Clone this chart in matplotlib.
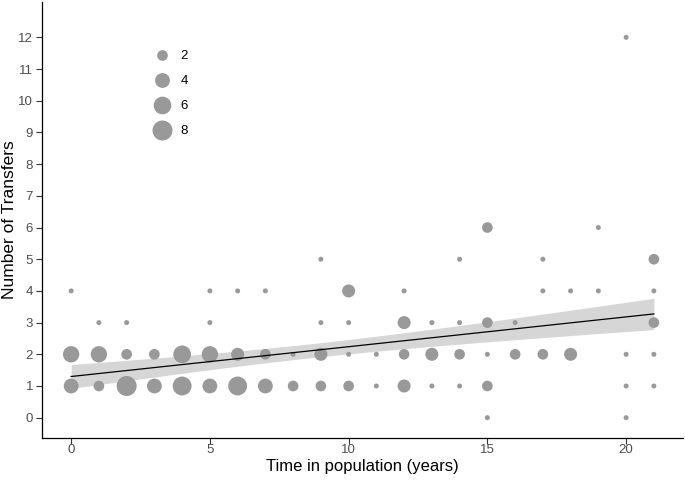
import numpy as np
import matplotlib
matplotlib.use("Agg")
import matplotlib.pyplot as plt
from matplotlib.lines import Line2D

plt.rcParams['font.family'] = ['Liberation Sans', 'DejaVu Sans']

# ---- data: (time, transfers, number of individuals) ----
time_years = [0, 0, 0,
              1, 1, 1,
              2, 2, 2,
              3, 3,
              4, 4,
              5, 5, 5, 5,
              6, 6, 6,
              7, 7, 7,
              8, 8,
              9, 9, 9, 9,
              10, 10, 10, 10,
              11, 11,
              12, 12, 12, 12,
              13, 13, 13,
              14, 14, 14, 14,
              15, 15, 15, 15, 15,
              16, 16,
              17, 17, 17,
              18, 18,
              19, 19,
              20, 20, 20, 20,
              21, 21, 21, 21, 21]
transfers = [1, 2, 4,
             1, 2, 3,
             1, 2, 3,
             1, 2,
             1, 2,
             1, 2, 3, 4,
             1, 2, 4,
             1, 2, 4,
             1, 2,
             1, 2, 3, 5,
             1, 2, 3, 4,
             1, 2,
             1, 2, 3, 4,
             1, 2, 3,
             1, 2, 3, 5,
             0, 1, 2, 3, 6,
             2, 3,
             2, 4, 5,
             2, 4,
             4, 6,
             0, 1, 2, 12,
             1, 2, 3, 4, 5]
counts = [4, 5, 1,
          2, 5, 1,
          8, 2, 1,
          4, 2,
          7, 6,
          4, 5, 1, 1,
          7, 3, 1,
          4, 2, 1,
          2, 1,
          2, 3, 1, 1,
          2, 1, 1, 3,
          1, 1,
          3, 2, 3, 1,
          1, 3, 1,
          1, 2, 1, 1,
          1, 2, 1, 2, 2,
          2, 1,
          2, 1, 1,
          3, 1,
          1, 1,
          1, 1, 1, 1,
          1, 1, 2, 1, 2]
legend_counts = [2, 4, 6, 8]
x_ticks = [0, 5, 10, 15, 20]
y_ticks = list(range(0, 13))

x = np.array(time_years, float)
y = np.array(transfers, float)
w = np.array(counts, float)

DPI = 100
def size_pts(c):
    c = np.asarray(c, float)
    d_px = 5 + 15 * np.sqrt((c - 1) / 7.0)
    return d_px * 72.0 / DPI

point_col = '#999999'

fig = plt.figure(figsize=(6.85, 4.80), dpi=DPI)
ax = fig.add_axes([42 / 685, 42.5 / 480, 641 / 685, 435.8 / 480])

ax.scatter(x, y, s=size_pts(w) ** 2, color=point_col, edgecolors='none', zorder=2)

# weighted linear fit (individual-level lm) with 95% CI
n = w.sum()
xm = (w * x).sum() / n
ym = (w * y).sum() / n
sxx = (w * (x - xm) ** 2).sum()
b = (w * (x - xm) * (y - ym)).sum() / sxx
a = ym - b * xm
s2 = (w * (y - a - b * x) ** 2).sum() / (n - 2)
xs = np.linspace(x.min(), x.max(), 80)
fit = a + b * xs
se = np.sqrt(s2 * (1 / n + (xs - xm) ** 2 / sxx))
tq = 1.976
ax.fill_between(xs, fit - tq * se, fit + tq * se, color=point_col, alpha=0.4,
                linewidth=0, zorder=3)
ax.plot(xs, fit, color='black', lw=0.9, zorder=4)

ax.set_xlim(-1.05, 22.05)
ax.set_ylim(-0.625, 13.125)
ax.set_xticks(x_ticks)
ax.set_yticks(y_ticks)
ax.tick_params(axis='both', length=4, width=0.8, color='#333333',
               labelcolor='#4D4D4D', labelsize=9.5)
ax.tick_params(axis='y', pad=2.5)
ax.tick_params(axis='x', pad=1.0)
for side in ['top', 'right']:
    ax.spines[side].set_visible(False)
for side in ['left', 'bottom']:
    ax.spines[side].set_linewidth(0.9)
    ax.spines[side].set_color('black')

ax.set_xlabel('Time in population (years)', fontsize=12, color='black', labelpad=2)
ax.set_ylabel('Number of Transfers', fontsize=12.5, color='black', labelpad=1.0)

handles = [Line2D([], [], marker='o', ls='', color=point_col, markeredgewidth=0,
                  markersize=float(size_pts(c))) for c in legend_counts]
ax.legend(handles, [str(c) for c in legend_counts], loc='upper left',
          bbox_to_anchor=(0.163, 0.901), frameon=False, fontsize=9.5,
          labelspacing=0.97, handlelength=1.5, handletextpad=0.68,
          borderaxespad=0)

fig.savefig('out.png', dpi=DPI)
